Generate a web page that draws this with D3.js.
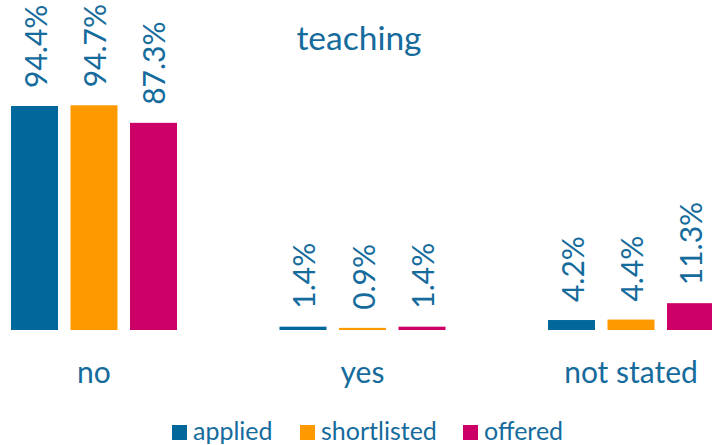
<!DOCTYPE html>
<html>
<head>
<meta charset="utf-8">
<script src="https://cdn.jsdelivr.net/npm/d3@7"></script>
<style>
  body { margin: 0; background: #fff; }
  text { font-family: Lato, "Open Sans", sans-serif; fill: #156b9c; }
</style>
</head>
<body>
<div id="chart"></div>
<script>
// chart data
var categories = ["no", "yes", "not stated"];
var series = ["applied", "shortlisted", "offered"];
var applied = [94.4, 1.4, 4.2];
var shortlisted = [94.7, 0.9, 4.4];
var offered = [87.3, 1.4, 11.3];
var seriesColors = ["#02679b", "#ff9900", "#cc0066"];
var title = "teaching";

var width = 712, height = 445;
var baseline = 330;

var values = [applied, shortlisted, offered];

var svg = d3.select("#chart").append("svg")
    .attr("width", width)
    .attr("height", height);

// scales
var x0 = d3.scaleBand()
    .domain(categories)
    .range([11, 11 + 3 * 268.5]);

var x1 = d3.scaleBand()
    .domain(series)
    .range([0, 166])
    .paddingInner(0.21);

var y = d3.scaleLinear()
    .domain([0, 100])
    .range([baseline, baseline - 237.3]);

var color = d3.scaleOrdinal().domain(series).range(seriesColors);

// flatten to one record per bar
var bars = [];
categories.forEach(function(c, i) {
  series.forEach(function(s, j) {
    bars.push({cat: c, series: s, value: values[j][i]});
  });
});

// bars
svg.append("g")
  .selectAll("rect")
  .data(bars)
  .enter().append("rect")
    .attr("x", function(d) { return x0(d.cat) + x1(d.series); })
    .attr("y", function(d) { return y(d.value); })
    .attr("width", x1.bandwidth())
    .attr("height", function(d) { return baseline - y(d.value); })
    .attr("fill", function(d) { return color(d.series); });

// value labels, rotated
svg.append("g")
  .selectAll("text")
  .data(bars)
  .enter().append("text")
    .attr("transform", function(d) {
      var cx = x0(d.cat) + x1(d.series) + x1.bandwidth() / 2;
      return "translate(" + cx + "," + (y(d.value) - 18) + ") rotate(-90)";
    })
    .attr("dominant-baseline", "central")
    .style("font-size", "30px")
    .text(function(d) { return d.value.toFixed(1) + "%"; });

// category labels
svg.append("g")
  .selectAll("text")
  .data(categories)
  .enter().append("text")
    .attr("x", function(d) { return x0(d) + 83; })
    .attr("y", 383)
    .attr("text-anchor", "middle")
    .style("font-size", "30px")
    .text(function(d) { return d; });

// title
svg.append("text")
  .attr("x", 359)
  .attr("y", 50)
  .attr("text-anchor", "middle")
  .style("font-size", "33.5px")
  .text(title);

// legend
var legendX = [172, 300, 463];
var legend = svg.append("g")
  .selectAll("g")
  .data(series)
  .enter().append("g")
    .attr("transform", function(d, i) { return "translate(" + legendX[i] + ",425)"; });

legend.append("rect")
  .attr("width", 15)
  .attr("height", 15)
  .attr("fill", function(d) { return color(d); });

legend.append("text")
  .attr("x", 21)
  .attr("y", 15)
  .style("font-size", "25px")
  .text(function(d) { return d; });
</script>
</body>
</html>
